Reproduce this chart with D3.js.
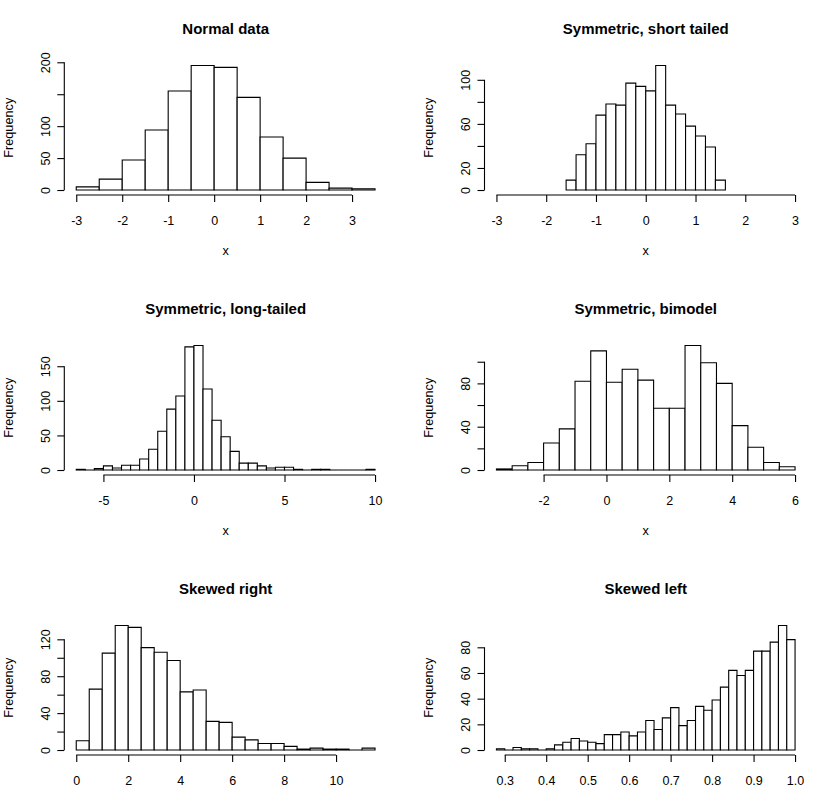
<!DOCTYPE html>
<html>
<head>
<meta charset="utf-8">
<script src="https://cdn.jsdelivr.net/npm/d3@7"></script>
<style>
  html, body { margin: 0; padding: 0; background: #fff; }
  svg { display: block; font-family: "Liberation Sans", Arial, Helvetica, sans-serif; }
</style>
</head>
<body>
<svg id="chart" width="818" height="804"></svg>
<script>
// ---------------- data ----------------
const titles = ["Normal data", "Symmetric, short tailed", "Symmetric, long-tailed",
                "Symmetric, bimodel", "Skewed right", "Skewed left"];

// first break and bin width for each histogram
const breakStart = [-3, -1.6, -6.5, -3.5, 0, 0.28];
const binWidth   = [0.5, 0.2, 0.5, 0.5, 0.5, 0.02];

const countsNormal = [5, 17, 47, 94, 155, 195, 192, 145, 83, 50, 12, 3, 2];
const countsShort  = [9, 32, 42, 68, 78, 77, 97, 94, 90, 113, 77, 69, 58, 49, 39, 9];
const countsLong   = [1, 0, 2, 6, 3, 7, 7, 16, 30, 56, 88, 107, 178, 180, 117, 72, 48, 27,
                      10, 10, 6, 3, 4, 4, 1, 0, 1, 1, 0, 0, 0, 0, 1];
const countsBimodal = [1, 4, 7, 25, 38, 82, 110, 81, 93, 83, 57, 57, 115, 99, 80, 41, 21, 7, 3];
const countsRight  = [10, 66, 105, 135, 133, 111, 106, 97, 63, 65, 31, 30, 14, 11, 7, 7, 4,
                      1, 2, 1, 1, 0, 2];
const countsLeft   = [1, 0, 2, 1, 1, 0, 1, 4, 6, 9, 7, 6, 5, 12, 12, 14, 11, 14, 23, 16, 25,
                      33, 19, 23, 34, 31, 39, 49, 62, 58, 62, 77, 77, 84, 97, 86];
const allCounts = [countsNormal, countsShort, countsLong, countsBimodal, countsRight, countsLeft];

// explicit x limits (null = range of breaks)
const xLimits = [null, [-3, 3], null, null, null, null];

// axis ticks and their labels ("" = tick drawn without label, as in the original)
const xTicks = [
  [-3, -2, -1, 0, 1, 2, 3],
  [-3, -2, -1, 0, 1, 2, 3],
  [-5, 0, 5, 10],
  [-2, 0, 2, 4, 6],
  [0, 2, 4, 6, 8, 10],
  [0.3, 0.4, 0.5, 0.6, 0.7, 0.8, 0.9, 1.0]
];
const xTickLabels = [
  ["-3", "-2", "-1", "0", "1", "2", "3"],
  ["-3", "-2", "-1", "0", "1", "2", "3"],
  ["-5", "0", "5", "10"],
  ["-2", "0", "2", "4", "6"],
  ["0", "2", "4", "6", "8", "10"],
  ["0.3", "0.4", "0.5", "0.6", "0.7", "0.8", "0.9", "1.0"]
];
const yTicks = [
  [0, 50, 100, 150, 200],
  [0, 20, 40, 60, 80, 100],
  [0, 50, 100, 150],
  [0, 20, 40, 60, 80, 100],
  [0, 20, 40, 60, 80, 100, 120],
  [0, 20, 40, 60, 80]
];
const yTickLabels = [
  ["0", "50", "100", "", "200"],
  ["0", "20", "", "60", "", "100"],
  ["0", "50", "100", "150"],
  ["0", "", "40", "", "80", ""],
  ["0", "", "40", "", "80", "", "120"],
  ["0", "20", "40", "60", "80"]
];
const showXLabel = [true, true, true, true, false, false];

// ---------------- layout ----------------
const colLeft  = [64.3, 484.5];
const colRight = [387, 807];
const rowTop    = [60.5, 340.5, 620.5];
const rowBottom = [195, 475, 755];
const FONT = "'Liberation Sans', Arial, Helvetica, sans-serif";

const svg = d3.select("#chart");

allCounts.forEach((counts, p) => {
  const col = p % 2, row = Math.floor(p / 2);
  const L = colLeft[col], R = colRight[col], T = rowTop[row], B = rowBottom[row];

  const bins = counts.map((c, i) => ({
    x0: breakStart[p] + i * binWidth[p],
    x1: breakStart[p] + (i + 1) * binWidth[p],
    count: c
  }));
  const xr = xLimits[p] || [bins[0].x0, bins[bins.length - 1].x1];
  const xpad = (xr[1] - xr[0]) * 0.04;
  const ymax = d3.max(counts);
  const ypad = ymax * 0.04;

  const x = d3.scaleLinear().domain([xr[0] - xpad, xr[1] + xpad]).range([L, R]);
  const y = d3.scaleLinear().domain([-ypad, ymax + ypad]).range([B, T]);

  const g = svg.append("g");

  // bars
  g.selectAll("path.bar").data(bins).join("path")
    .attr("class", "bar")
    .attr("d", d => {
      const x0 = x(d.x0), x1 = x(d.x1), y0 = y(0), y1 = y(d.count);
      return `M${x0},${y0}H${x1}V${y1}H${x0}Z`;
    })
    .attr("fill", "#fff")
    .attr("stroke", "#000")
    .attr("stroke-width", 1.1);

  // x axis
  const xt = xTicks[p];
  const xAxis = d3.axisBottom(x).tickValues(xt).tickSize(7)
    .tickFormat((d, i) => xTickLabels[p][i]);
  const gx = g.append("g").attr("transform", `translate(0,${B})`).call(xAxis);
  gx.select(".domain").remove();
  gx.append("line")
    .attr("x1", x(xt[0])).attr("x2", x(xt[xt.length - 1]))
    .attr("y1", 0).attr("y2", 0)
    .attr("stroke", "#000").attr("stroke-width", 1.1);
  gx.selectAll(".tick line").attr("stroke", "#000").attr("stroke-width", 1.1);
  gx.selectAll(".tick text")
    .attr("y", 29.5).attr("dy", null)
    .attr("fill", "#000")
    .style("font-size", "12.5px")
    .style("font-family", FONT);

  // y axis
  const yt = yTicks[p];
  const yAxis = d3.axisLeft(y).tickValues(yt).tickSize(7)
    .tickFormat((d, i) => yTickLabels[p][i]);
  const gy = g.append("g").attr("transform", `translate(${L},0)`).call(yAxis);
  gy.select(".domain").remove();
  gy.append("line")
    .attr("x1", 0).attr("x2", 0)
    .attr("y1", y(yt[0])).attr("y2", y(yt[yt.length - 1]))
    .attr("stroke", "#000").attr("stroke-width", 1.1);
  gy.selectAll(".tick line").attr("stroke", "#000").attr("stroke-width", 1.1);
  gy.selectAll(".tick text")
    .attr("x", 0).attr("y", -14.3).attr("dy", null)
    .attr("transform", "rotate(-90)")
    .attr("text-anchor", "middle")
    .attr("fill", "#000")
    .style("font-size", "12.5px")
    .style("font-family", FONT);

  // y label
  g.append("text")
    .attr("transform", `translate(${L - 51.5},${(T + B) / 2}) rotate(-90)`)
    .attr("text-anchor", "middle")
    .style("font-size", "12.7px")
    .text("Frequency");

  // x label
  if (showXLabel[p]) {
    g.append("text")
      .attr("x", (L + R) / 2).attr("y", B + 60)
      .attr("text-anchor", "middle")
      .style("font-size", "12.7px")
      .text("x");
  }

  // title
  g.append("text")
    .attr("x", (L + R) / 2).attr("y", T - 26.5)
    .attr("text-anchor", "middle")
    .style("font-size", "15px")
    .style("font-weight", "bold")
    .text(titles[p]);
});
</script>
</body>
</html>
